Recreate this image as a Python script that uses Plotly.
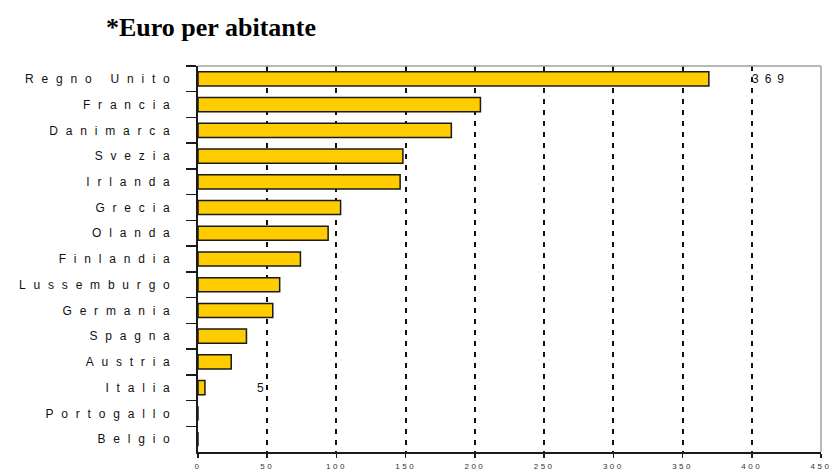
import plotly.graph_objects as go

# Country spending, euro per inhabitant
paesi = ["Regno Unito", "Francia", "Danimarca", "Svezia", "Irlanda", "Grecia",
         "Olanda", "Finlandia", "Lussemburgo", "Germania", "Spagna", "Austria",
         "Italia", "Portogallo", "Belgio"]
euro = [369, 204, 183, 148, 146, 103, 94, 74, 59, 54, 35, 24, 5, 0, 0]

x_ticks = [0, 50, 100, 150, 200, 250, 300, 350, 400, 450]

# Values printed beside selected bars: (country, x position of the text, anchor)
etichette = [("Regno Unito", 405, "left"), ("Italia", 51, "right")]

W, H = 830, 470
ML, MR, MT, MB = 198, 9, 66, 18

fig = go.Figure()
fig.add_trace(go.Bar(
    y=paesi, x=euro, orientation="h",
    marker=dict(color="#FFCC00", line=dict(color="#1a1a1a", width=1.5)),
    width=0.55, hoverinfo="skip",
))

for nome, xpos, anc in etichette:
    v = euro[paesi.index(nome)]
    fig.add_annotation(x=xpos, y=nome, xref="x", yref="y", text=str(v),
                       showarrow=False, xanchor=anc, yanchor="middle",
                       font=dict(family="Liberation Sans, Arial", size=12, color="#111"))

fig.add_annotation(x=(211 - ML) / (W - ML - MR), y=1, xref="paper", yref="paper",
                   yshift=39, text="<b>*Euro per abitante</b>", showarrow=False,
                   xanchor="center", yanchor="middle",
                   font=dict(family="Liberation Serif, Times New Roman", size=26, color="black"))

# grey frame on top and right
fig.add_shape(type="line", xref="paper", yref="paper", x0=0, x1=1, y0=1, y1=1,
              line=dict(color="#a0a0a0", width=1.5))
fig.add_shape(type="line", xref="paper", yref="paper", x0=1, x1=1, y0=0, y1=1,
              line=dict(color="#a0a0a0", width=1.5))

fig.update_layout(
    width=W, height=H,
    margin=dict(l=ML, r=MR, t=MT, b=MB),
    paper_bgcolor="white", plot_bgcolor="white",
    showlegend=False,
    xaxis=dict(range=[0, 450], tickvals=x_ticks, ticktext=[str(t) for t in x_ticks],
               showgrid=True, gridcolor="#111", gridwidth=2, griddash="5px,6px",
               zeroline=False, showline=True, linecolor="#1a1a1a", linewidth=2,
               ticks="outside", ticklen=4, tickcolor="#1a1a1a", tickwidth=1.5,
               ticklabelstandoff=1,
               tickfont=dict(family="Liberation Sans, Arial", size=8, color="#333"),
               automargin=False, fixedrange=True),
    yaxis=dict(categoryorder="array", categoryarray=paesi, autorange="reversed",
               tickson="boundaries", ticks="outside", ticklen=10, tickwidth=1.5,
               tickcolor="#1a1a1a", showgrid=False, showline=True,
               linecolor="#1a1a1a", linewidth=2, ticklabelstandoff=16,
               tickfont=dict(family="Liberation Sans, Arial", size=12, color="#111"),
               automargin=False, fixedrange=True),
)

spaziatura = """
function spazia() {
  document.querySelectorAll('.ytick text').forEach(function(t){ t.style.letterSpacing = '7.8px'; });
  document.querySelectorAll('.xtick text').forEach(function(t){ t.style.letterSpacing = '2.5px'; });
  document.querySelectorAll('.annotation-text').forEach(function(t){
    if (/^[0-9]+$/.test(t.textContent)) { t.style.letterSpacing = '6px'; }
  });
}
spazia();
"""

fig.write_html("out.html", post_script=spaziatura, config={"staticPlot": True})
